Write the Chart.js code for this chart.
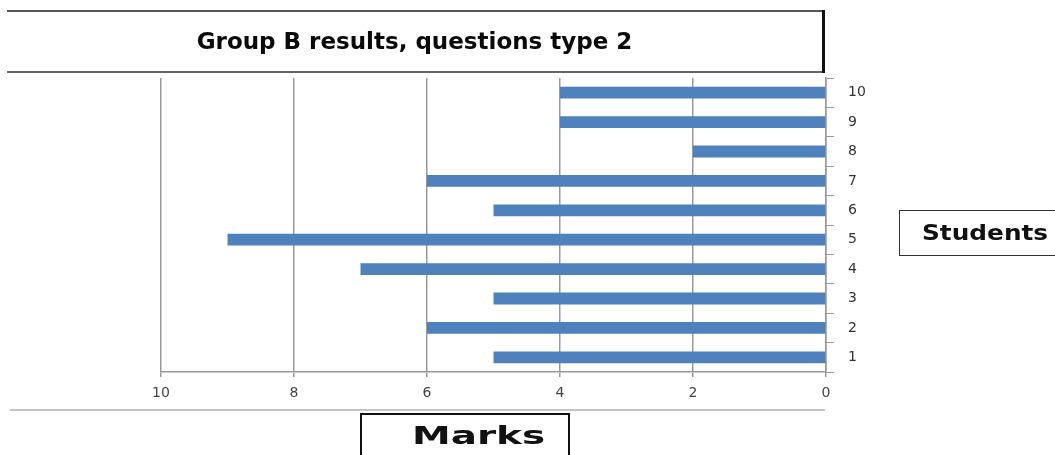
<!DOCTYPE html>
<html>
<head>
<meta charset="utf-8">
<script src="https://cdn.jsdelivr.net/npm/chart.js@4"></script>
<style>
    html, body { margin: 0; padding: 0; background: #fff; }
    #wrap { position: relative; width: 1055px; height: 455px; overflow: hidden; }
    #chart { position: absolute; left: 0; top: 0; }
    .line { position: absolute; }
    .box { position: absolute; box-sizing: border-box; }
    .lbl {
        position: absolute; white-space: nowrap; transform-origin: 0 50%;
        font-family: "DejaVu Sans", sans-serif; font-weight: bold; color: #111;
    }
</style>
</head>
<body>
<div id="wrap">
    <canvas id="chart" width="1055" height="455"></canvas>

    <!-- title frame -->
    <div class="line" style="left:7px; top:10px; width:818px; height:2px; background:#555;"></div>
    <div class="line" style="left:7px; top:71px; width:816px; height:2px; background:#666;"></div>
    <div class="line" style="left:822px; top:10px; width:3px; height:63px; background:#111;"></div>
    <div class="lbl" style="left:7px; width:815px; top:12px; height:59px; line-height:59px; text-align:center; font-size:23px; color:#0a0a0a;">Group B results, questions type 2</div>

    <!-- separator under the x axis -->
    <div class="line" style="left:10px; top:409px; width:815px; height:2px; background:#c4c4c4;"></div>

    <div class="box" style="left:899px; top:210px; width:170px; height:46px; border:1px solid #333;"></div>
    <div class="lbl" style="left:922px; top:218px; height:30px; line-height:30px; font-size:21px; transform:scaleX(1.18);">Students</div>

    <div class="box" style="left:360px; top:413px; width:210px; height:60px; border:2px solid #111;"></div>
    <div class="lbl" style="left:412px; top:421px; height:30px; line-height:30px; font-size:24px; transform:scaleX(1.62);">Marks</div>
</div>

<script>
const students = ['1', '2', '3', '4', '5', '6', '7', '8', '9', '10'];
const marks = [5, 6, 5, 7, 9, 5, 6, 2, 4, 4];
const markTicks = [0, 2, 4, 6, 8, 10];

const barColor = '#4f81bd';
const gridColor = '#999999';

document.addEventListener('DOMContentLoaded', () => {
    const ctx = document.getElementById('chart').getContext('2d');
    new Chart(ctx, {
        type: 'bar',
        data: {
            labels: students,
            datasets: [{
                label: 'Marks',
                data: marks,
                backgroundColor: barColor,
                borderWidth: 0,
                barPercentage: 0.4,
                categoryPercentage: 1
            }]
        },
        options: {
            indexAxis: 'y',
            responsive: false,
            animation: false,
            layout: {
                padding: { left: 161, top: 78, right: 0, bottom: 0 }
            },
            plugins: {
                legend: { display: false },
                title: { display: false },
                tooltip: { enabled: false }
            },
            scales: {
                x: {
                    reverse: true,
                    min: 0,
                    max: 10,
                    afterBuildTicks: axis => {
                        axis.ticks = markTicks.map(v => ({ value: v }));
                    },
                    afterFit: axis => { axis.height = 83; },
                    grid: {
                        color: gridColor,
                        lineWidth: 1.5,
                        tickLength: 5
                    },
                    border: { color: gridColor, width: 1.5 },
                    ticks: {
                        color: '#444',
                        padding: 8,
                        font: { family: 'DejaVu Sans', size: 14 }
                    }
                },
                y: {
                    position: 'right',
                    reverse: true,
                    afterFit: axis => { axis.width = 229; },
                    grid: {
                        drawOnChartArea: false,
                        offset: true,
                        color: gridColor,
                        tickLength: 8
                    },
                    border: { color: gridColor, width: 1.5 },
                    ticks: {
                        color: '#333',
                        padding: 14,
                        font: { family: 'DejaVu Sans', size: 14 }
                    }
                }
            }
        }
    });
});
</script>
</body>
</html>
